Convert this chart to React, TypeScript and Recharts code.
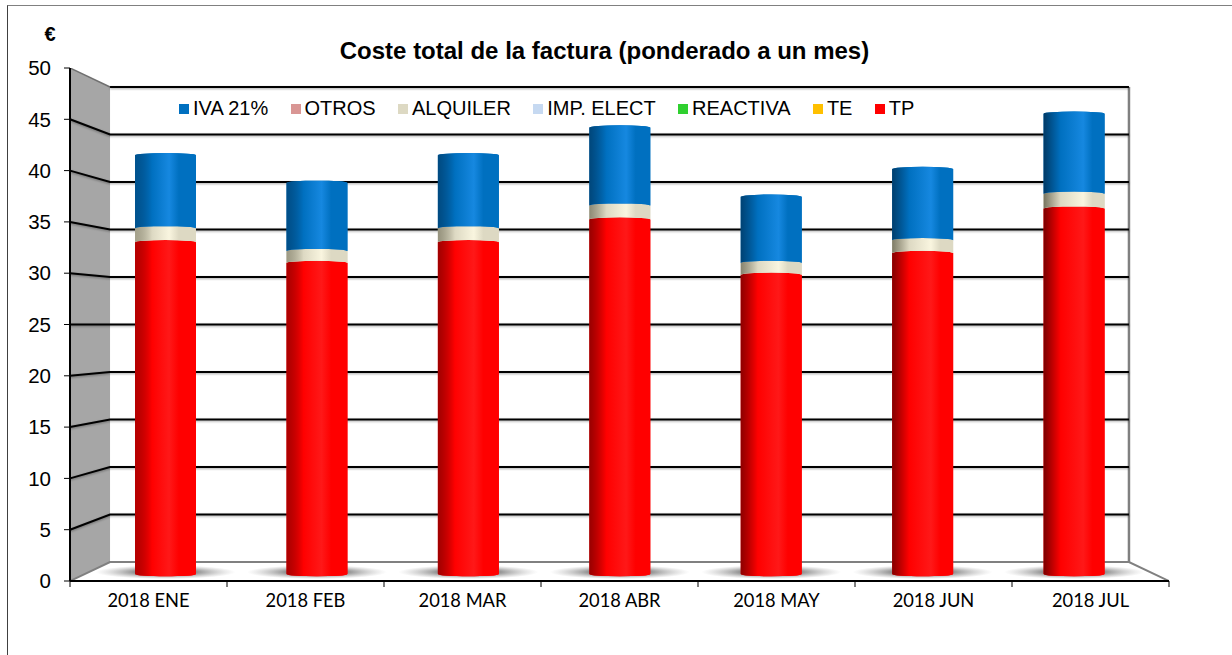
import { Area, Bar, ComposedChart, Line, XAxis, YAxis } from 'recharts'

const CATEGORIES = ['2018 ENE', '2018 FEB', '2018 MAR', '2018 ABR', '2018 MAY', '2018 JUN', '2018 JUL']
const TP = [33.8, 31.7, 33.8, 36.1, 30.5, 32.7, 37.2]
const TE = [0, 0, 0, 0, 0, 0, 0]
const REACTIVA = [0, 0, 0, 0, 0, 0, 0]
const IMP_ELECT = [0, 0, 0, 0, 0, 0, 0]
const ALQUILER = [1.4, 1.2, 1.4, 1.4, 1.2, 1.3, 1.5]
const OTROS = [0, 0, 0, 0, 0, 0, 0]
const IVA = [7.4, 6.9, 7.4, 7.9, 6.7, 7.2, 8.1]
const Y_TICKS = [0, 5, 10, 15, 20, 25, 30, 35, 40, 45, 50]
const SLOT_TICKS = [0, 1, 2, 3, 4, 5, 6, 7]

// bottom to top, the legend reads the other way round
const SERIES = [
  { key: 'TP', values: TP, color: '#ff0000', light: '#ff1818', dark: '#7a0000' },
  { key: 'TE', values: TE, color: '#ffc000', light: '#ffd040', dark: '#806000' },
  { key: 'REACTIVA', values: REACTIVA, color: '#2fd02f', light: '#40e040', dark: '#155015' },
  { key: 'IMP. ELECT', values: IMP_ELECT, color: '#c6d9f1', light: '#dce8f8', dark: '#607080' },
  { key: 'ALQUILER', values: ALQUILER, color: '#ddd9c3', light: '#f9f5df', dark: '#77745f' },
  { key: 'OTROS', values: OTROS, color: '#d99694', light: '#e8b0ae', dark: '#704846' },
  { key: 'IVA 21%', values: IVA, color: '#0070c0', light: '#1688e0', dark: '#003a66' },
]

const W = 1232
const H = 655
const PLOT = { top: 68, right: 63, bottom: 74, left: 70 }
const WALL_DEPTH = 0.255 // in slots of the floor axis
const WALL_DOMAIN = [-2, 52] // the back wall sits smaller than the front axis
const BAR_DOMAIN = [-0.7, 51.2] // bars stand half way between the two

// where a front axis value lands in back wall units
const frontOnWall = (v: number) => WALL_DOMAIN[0] + (v / 50) * (WALL_DOMAIN[1] - WALL_DOMAIN[0])

const rows = CATEGORIES.map((label, i) => {
  const row: Record<string, number | string> = { label }
  for (const s of SERIES) row[s.key] = s.values[i]
  return row
})

const wallData = [
  { x: 0, range: [frontOnWall(0), frontOnWall(50)] },
  { x: WALL_DEPTH, range: [0, 50] },
]

function gridData(v: number) {
  return [
    { x: 0, y: frontOnWall(v) },
    { x: WALL_DEPTH, y: v },
    { x: 7 - WALL_DEPTH, y: v },
  ]
}

const floorData = [
  { x: 0, y: frontOnWall(0) },
  { x: WALL_DEPTH, y: 0 },
  { x: 7 - WALL_DEPTH, y: 0 },
  { x: 7, y: frontOnWall(0) },
]
const rightWallData = [
  { x: 7 - WALL_DEPTH, y: 0 },
  { x: 7 - WALL_DEPTH, y: 50 },
]
const topEdgeData = [
  { x: 0, y: frontOnWall(50) },
  { x: WALL_DEPTH, y: 50 },
]

function Cylinder(props: any) {
  const { x, y, width, height, index, seriesIndex, color, light, dark } = props
  if (!height || height <= 0) return null
  const r = 2.2
  const t = index / 6
  const gid = `cyl-${seriesIndex}-${index}`
  const sid = `shadow-${index}`
  // the lowest segment bulges down onto the floor, the others sit on the dome below them
  const bottom = seriesIndex === 0
    ? `L${x + width},${y + height} A${width / 2},${r} 0 0 1 ${x},${y + height}`
    : `L${x + width},${y + height + r} A${width / 2},${r} 0 0 0 ${x},${y + height + r}`
  const d = `M${x},${y + r} A${width / 2},${r} 0 0 1 ${x + width},${y + r} ${bottom} Z`
  return (
    <g>
      <defs>
        <linearGradient id={gid} x1="0" y1="0" x2="1" y2="0">
          <stop offset="0" stopColor={dark} stopOpacity={0.55 + 0.45 * t} />
          <stop offset={0.28} stopColor={color} stopOpacity={1} />
          <stop offset={0.56 + 0.09 * t} stopColor={light} />
          <stop offset={0.72 + 0.08 * t} stopColor={color} />
          <stop offset="1" stopColor={color} />
        </linearGradient>
        <radialGradient id={sid}>
          <stop offset="0.4" stopColor="#707070" stopOpacity={0.85} />
          <stop offset="1" stopColor="#aaa" stopOpacity={0} />
        </radialGradient>
      </defs>
      {seriesIndex === 0 && (
        <ellipse cx={x + width / 2} cy={y + height - 2} rx={70} ry={7} fill={`url(#${sid})`} />
      )}
      <path d={d} fill={color} />
      <path d={d} fill={`url(#${gid})`} />
    </g>
  )
}

function LegendRow() {
  return (
    <div style={{
      position: 'absolute', left: 179, top: 97, display: 'flex', gap: 22.3,
      font: '20px "Liberation Sans", Arial, sans-serif', color: '#000', whiteSpace: 'nowrap',
    }}>
      {[...SERIES].reverse().map(s => (
        <div key={s.key} style={{ display: 'flex', alignItems: 'center', gap: 4 }}>
          <span style={{ width: 10, height: 10, background: s.color, display: 'inline-block' }} />
          {s.key}
        </div>
      ))}
    </div>
  )
}

const wallLine = { xAxisId: 'floor', yAxisId: 'wall', dataKey: 'y', dot: false, isAnimationActive: false, legendType: 'none' } as const

export default function App() {
  return (
    <div style={{ position: 'absolute', left: 0, top: 0, width: W, height: H, background: '#fff', overflow: 'hidden' }}>
      <div style={{
        position: 'absolute', left: 7, top: 5, width: W, height: H,
        borderLeft: '1px solid #404040', borderTop: '1px solid #808080',
      }} />

      {/* walls, gridlines and axes go behind the bars */}
      <div style={{ position: 'absolute', left: 0, top: 0 }}>
        <ComposedChart width={W} height={H} data={rows}
          margin={{ top: PLOT.top, right: PLOT.right, bottom: 0, left: 0 }}>
          <XAxis xAxisId="floor" type="number" dataKey="x" domain={[0, 7]} ticks={SLOT_TICKS} tick={() => <g />}
            height={1} tickSize={6} allowDataOverflow interval={0}
            axisLine={{ stroke: '#000', strokeWidth: 2 }} tickLine={{ stroke: '#000' }} />
          <XAxis xAxisId="labels" dataKey="label" scale="band" height={PLOT.bottom - 1} axisLine={false} tickLine={false}
            interval={0} tickMargin={6} tick={{ fill: '#000', fontSize: 18.3, fontFamily: 'Lato' }} />
          <YAxis yAxisId="front" domain={[0, 50]} ticks={Y_TICKS} width={PLOT.left} tickSize={6} tickMargin={13} interval={0} allowDataOverflow
            axisLine={{ stroke: '#000', strokeWidth: 2 }} tickLine={{ stroke: '#000' }}
            tick={{ fill: '#000', fontSize: 20.5, fontFamily: 'Liberation Sans' }} />
          <YAxis yAxisId="wall" hide domain={WALL_DOMAIN} allowDataOverflow />

          <Area data={wallData} xAxisId="floor" yAxisId="wall" dataKey="range" type="linear"
            fill="#a6a6a6" fillOpacity={1} stroke="none" isAnimationActive={false} legendType="none" />
          <Line {...wallLine} data={floorData} stroke="#808080" strokeWidth={2} />
          <Line {...wallLine} data={rightWallData} stroke="#808080" strokeWidth={2.5} />
          <Line {...wallLine} data={topEdgeData} stroke="#707070" strokeWidth={1.5} />
          {Y_TICKS.filter(v => v > 0).map(v => (
            <Line {...wallLine} key={v} data={v === 50 ? gridData(v).slice(1) : gridData(v)}
              stroke="#000" strokeWidth={2}
              style={{ filter: 'drop-shadow(0 1px 1px rgba(0,0,0,0.35))' }} />
          ))}
          <text x={50} y={41} textAnchor="middle" fontFamily="Liberation Sans" fontWeight="bold" fontSize={20}>€</text>
          <text x={604.5} y={59} textAnchor="middle" fontFamily="Liberation Sans" fontWeight="bold" fontSize={24}>
            Coste total de la factura (ponderado a un mes)
          </text>
        </ComposedChart>
      </div>

      <div style={{ position: 'absolute', left: 0, top: 0 }}>
        <ComposedChart width={W} height={H} data={rows} barCategoryGap="0%"
          margin={{ top: PLOT.top, right: PLOT.right, bottom: PLOT.bottom, left: PLOT.left }}>
          <XAxis dataKey="label" hide padding={{ left: 20, right: 19 }} />
          <YAxis hide domain={BAR_DOMAIN} allowDataOverflow />
          {SERIES.map((s, i) => (
            <Bar key={s.key} dataKey={s.key} stackId="total" barSize={61} isAnimationActive={false}
              fill={s.color}
              shape={(p: any) => <Cylinder {...p} seriesIndex={i} color={s.color} light={s.light} dark={s.dark} />} />
          ))}
        </ComposedChart>
      </div>

      <LegendRow />
    </div>
  )
}
